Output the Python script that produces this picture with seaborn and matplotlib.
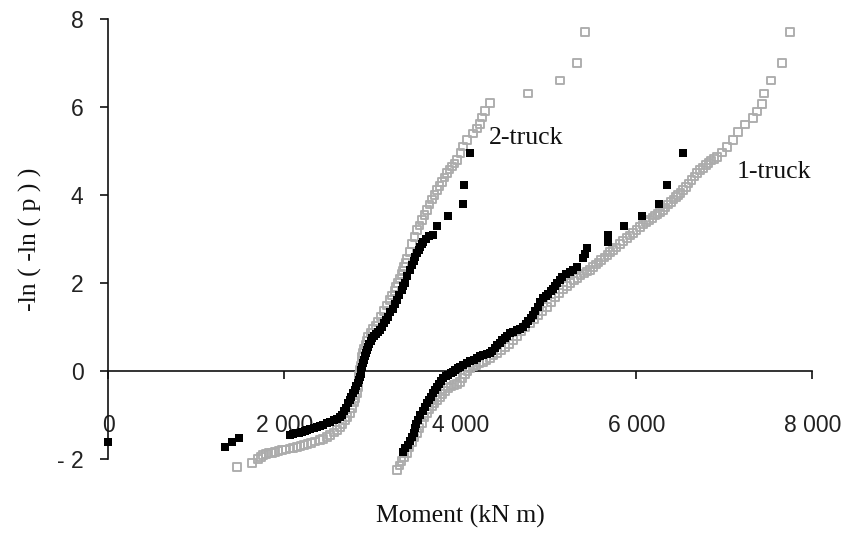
import matplotlib
matplotlib.use("Agg")
import matplotlib.pyplot as plt
import seaborn as sns
import pandas as pd

# ---------------- data, (moment, -ln(-ln p)) ----------------
# 2-truck, measured (black filled squares)
two_black = [(0, -1.61), (1324, -1.73), (1403, -1.61), (1483, -1.52), (2062, -1.45), (2095, -1.44),
             (2130, -1.42), (2165, -1.40), (2200, -1.38), (2230, -1.36), (2256, -1.34), (2295, -1.32),
             (2330, -1.30), (2365, -1.28), (2400, -1.25), (2440, -1.22), (2483, -1.18), (2520, -1.15),
             (2560, -1.12), (2595, -1.09), (2631, -1.05), (2655, -0.99), (2680, -0.92), (2700, -0.83),
             (2722, -0.73), (2742, -0.66), (2760, -0.58), (2780, -0.51), (2801, -0.43), (2815, -0.35),
             (2830, -0.28), (2845, -0.21), (2858, -0.14), (2866, -0.06), (2875, 0.02), (2883, 0.10),
             (2892, 0.18), (2903, 0.26), (2915, 0.33), (2927, 0.41), (2938, 0.48), (2952, 0.55),
             (2965, 0.62), (2980, 0.69), (2994, 0.75), (3017, 0.80), (3040, 0.85), (3062, 0.89),
             (3085, 0.93), (3107, 1.00), (3130, 1.08), (3153, 1.16), (3176, 1.23), (3203, 1.33),
             (3230, 1.42), (3254, 1.52), (3278, 1.61), (3306, 1.73), (3335, 1.85), (3352, 1.93),
             (3369, 2.00), (3397, 2.15), (3426, 2.30), (3448, 2.40), (3470, 2.50), (3488, 2.59),
             (3506, 2.68), (3523, 2.75), (3540, 2.82), (3557, 2.88), (3574, 2.93), (3607, 3.00),
             (3640, 3.06), (3688, 3.10), (3733, 3.30), (3858, 3.52), (4029, 3.80), (4040, 4.23),
             (4108, 4.95)]

# 2-truck, simulated (grey open squares)
two_grey = [(1460, -2.18), (1630, -2.09), (1700, -2.00), (1730, -1.95), (1755, -1.91), (1790, -1.89),
            (1820, -1.87), (1855, -1.86), (1892, -1.84), (1930, -1.82), (1970, -1.80), (2015, -1.78),
            (2060, -1.76), (2100, -1.75), (2142, -1.73), (2180, -1.70), (2220, -1.68), (2260, -1.66),
            (2300, -1.63), (2350, -1.60), (2403, -1.57), (2440, -1.54), (2480, -1.50), (2520, -1.45),
            (2560, -1.40), (2600, -1.34), (2631, -1.27), (2660, -1.20), (2690, -1.12), (2718, -1.04),
            (2744, -0.95), (2768, -0.84), (2790, -0.72), (2808, -0.61), (2824, -0.50), (2834, -0.37),
            (2842, -0.24), (2850, -0.11), (2858, 0.02), (2866, 0.12), (2875, 0.22), (2883, 0.32),
            (2892, 0.41), (2905, 0.51), (2920, 0.60), (2935, 0.69), (2949, 0.77), (2977, 0.86),
            (3005, 0.95), (3034, 1.03), (3063, 1.11), (3097, 1.24), (3130, 1.36), (3165, 1.49),
            (3199, 1.61), (3225, 1.72), (3250, 1.82), (3270, 1.91), (3290, 2.00), (3310, 2.10),
            (3330, 2.20), (3345, 2.28), (3360, 2.36), (3376, 2.45), (3392, 2.55), (3420, 2.71),
            (3450, 2.88), (3478, 3.04), (3506, 3.20), (3533, 3.31), (3560, 3.43), (3590, 3.55),
            (3619, 3.66), (3647, 3.78), (3675, 3.90), (3704, 4.00), (3733, 4.11), (3762, 4.20),
            (3790, 4.30), (3818, 4.40), (3847, 4.50), (3876, 4.58), (3905, 4.65), (3932, 4.72),
            (3960, 4.80), (4000, 4.95), (4029, 5.10), (4075, 5.25), (4142, 5.40), (4188, 5.51),
            (4222, 5.62), (4244, 5.76), (4278, 5.91), (4335, 6.09), (4767, 6.31), (5131, 6.60),
            (5324, 7.00), (5415, 7.70)]

# 1-truck, measured (black filled squares)
one_black = [(3347, -1.84), (3375, -1.76), (3400, -1.68), (3425, -1.59), (3449, -1.50), (3467, -1.40),
             (3485, -1.30), (3500, -1.20), (3517, -1.11), (3545, -1.01), (3570, -0.92), (3595, -0.82),
             (3619, -0.73), (3642, -0.65), (3665, -0.58), (3688, -0.50), (3710, -0.43), (3733, -0.36),
             (3755, -0.29), (3778, -0.22), (3801, -0.16), (3830, -0.12), (3860, -0.08), (3888, -0.05),
             (3915, -0.02), (3943, 0.02), (3970, 0.06), (4000, 0.10), (4029, 0.14), (4070, 0.18),
             (4110, 0.22), (4150, 0.26), (4188, 0.30), (4225, 0.33), (4260, 0.36), (4298, 0.38),
             (4335, 0.41), (4362, 0.46), (4390, 0.52), (4420, 0.58), (4449, 0.64), (4477, 0.70),
             (4505, 0.75), (4533, 0.80), (4562, 0.86), (4600, 0.89), (4640, 0.93), (4675, 0.96),
             (4710, 1.00), (4740, 1.07), (4770, 1.14), (4797, 1.20), (4824, 1.27), (4852, 1.36),
             (4880, 1.46), (4908, 1.56), (4937, 1.66), (4968, 1.71), (5000, 1.76), (5025, 1.81),
             (5051, 1.86), (5075, 1.93), (5100, 2.00), (5127, 2.07), (5153, 2.14), (5195, 2.20),
             (5240, 2.25), (5282, 2.30), (5324, 2.36), (5392, 2.56), (5420, 2.67), (5438, 2.80),
             (5676, 2.94), (5676, 3.10), (5858, 3.30), (6063, 3.52), (6256, 3.80), (6347, 4.23),
             (6528, 4.95)]

# 1-truck, simulated (grey open squares)
one_grey = [(3278, -2.25), (3305, -2.15), (3330, -2.05), (3360, -1.95), (3392, -1.86), (3420, -1.74),
            (3450, -1.62), (3478, -1.51), (3506, -1.41), (3533, -1.30), (3560, -1.18), (3590, -1.06),
            (3619, -0.95), (3647, -0.87), (3675, -0.80), (3704, -0.73), (3733, -0.66), (3765, -0.59),
            (3795, -0.52), (3826, -0.45), (3858, -0.39), (3892, -0.35), (3925, -0.32), (3960, -0.29),
            (3994, -0.25), (4022, -0.16), (4050, -0.08), (4080, 0.00), (4108, 0.07), (4145, 0.11),
            (4180, 0.14), (4218, 0.17), (4256, 0.20), (4295, 0.25), (4335, 0.30), (4375, 0.35),
            (4415, 0.41), (4460, 0.48), (4505, 0.55), (4550, 0.62), (4597, 0.70), (4643, 0.80),
            (4690, 0.90), (4740, 1.00), (4790, 1.09), (4838, 1.18), (4885, 1.27), (4934, 1.36),
            (4983, 1.45), (5030, 1.57), (5075, 1.68), (5120, 1.77), (5165, 1.85), (5208, 1.93),
            (5250, 2.00), (5290, 2.06), (5330, 2.12), (5365, 2.17), (5400, 2.22), (5436, 2.26),
            (5472, 2.30), (5506, 2.36), (5540, 2.42), (5570, 2.47), (5600, 2.52), (5635, 2.58),
            (5670, 2.64), (5700, 2.70), (5733, 2.75), (5770, 2.81), (5810, 2.88), (5850, 2.95),
            (5890, 3.02), (5925, 3.08), (5960, 3.14), (6000, 3.21), (6040, 3.27), (6075, 3.33),
            (6110, 3.38), (6145, 3.43), (6180, 3.48), (6210, 3.53), (6240, 3.57), (6270, 3.62),
            (6301, 3.66), (6330, 3.72), (6360, 3.78), (6390, 3.84), (6420, 3.90), (6448, 3.95),
            (6475, 4.00), (6502, 4.05), (6528, 4.11), (6560, 4.18), (6590, 4.26), (6625, 4.34),
            (6660, 4.42), (6690, 4.50), (6722, 4.57), (6756, 4.62), (6790, 4.68), (6820, 4.73),
            (6850, 4.78), (6883, 4.82), (6915, 4.86), (6970, 4.97), (7028, 5.09), (7097, 5.25),
            (7153, 5.43), (7233, 5.60), (7324, 5.75), (7369, 5.90), (7426, 6.07), (7449, 6.31),
            (7528, 6.60), (7653, 7.00), (7744, 7.70)]

x_ticks = [0, 2000, 4000, 6000, 8000]
x_tick_labels = ["0", "2 000", "4 000", "6 000", "8 000"]
y_ticks = [-2, 0, 2, 4, 6, 8]
y_tick_labels = ["- 2", "0", "2", "4", "6", "8"]

labels = ["2-truck", "1-truck"]
label_pos_x = [4324, 7142]
label_pos_y = [5.30, 4.52]

# ---------------- styling ----------------
sns.set_theme(style="white")
plt.rcParams["font.family"] = ["Liberation Serif", "DejaVu Serif"]

fig = plt.figure(figsize=(8.45, 5.35), dpi=100)
ax = fig.add_axes([108.5 / 845, 76 / 535, 704 / 845, 440 / 535])

# spines first (moving a spine resets the tick objects)
for side in ["top", "right"]:
    ax.spines[side].set_visible(False)
ax.spines["bottom"].set_position(("data", 0))
for side in ["left", "bottom"]:
    ax.spines[side].set_color("#111111")
    ax.spines[side].set_linewidth(1.2)

grey = "#acacac"
for pts in [two_grey, one_grey]:
    df = pd.DataFrame(pts, columns=["x", "y"])
    sns.scatterplot(data=df, x="x", y="y", ax=ax, marker="s", s=30,
                    color=grey, facecolor="none", edgecolor=grey, linewidth=1.35,
                    clip_on=False, zorder=3, legend=False)

for pts in [two_black, one_black]:
    df = pd.DataFrame(pts, columns=["x", "y"])
    sns.scatterplot(data=df, x="x", y="y", ax=ax, marker="s", s=40,
                    color="black", edgecolor="black", linewidth=0,
                    clip_on=False, zorder=4, legend=False)

for lab, lx, ly in zip(labels, label_pos_x, label_pos_y):
    ax.text(lx, ly, lab, ha="left", va="center", fontsize=18.5, color="#111111")

ax.set_xlim(0, 8000)
ax.set_ylim(-2, 8)
ax.set_xticks(x_ticks)
ax.set_xticklabels(x_tick_labels, fontfamily="Liberation Sans", fontsize=16.5, color="#222222")
ax.set_yticks(y_ticks)
ax.set_yticklabels(y_tick_labels, fontfamily="Liberation Sans", fontsize=16.5, color="#222222")

ax.tick_params(axis="x", direction="out", length=6, width=1.2, color="#111111", pad=25, bottom=True)
ax.tick_params(axis="y", direction="out", length=6, width=1.2, color="#111111", pad=12, left=True)

ax.set_xlabel("Moment (kN m)", fontsize=18.5, color="#111111")
ax.set_ylabel("-ln ( -ln ( p ) )", fontsize=18.5, color="#111111")
ax.xaxis.set_label_coords(0.5, -0.105)
ax.yaxis.set_label_coords(-0.094, 0.5)
ax.xaxis.label.set_va("top")

fig.savefig("out.png", dpi=100)
